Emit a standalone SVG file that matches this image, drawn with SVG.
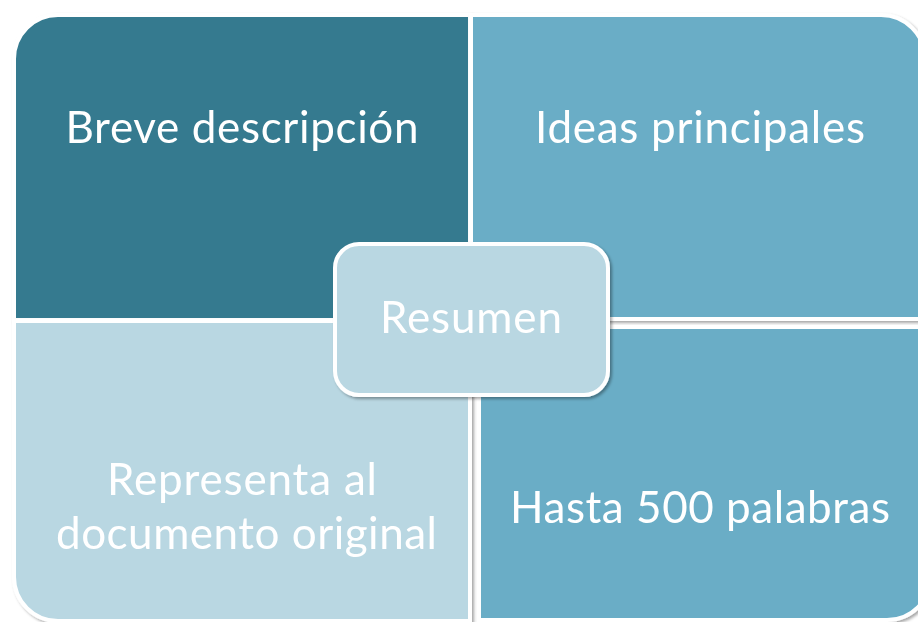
<svg xmlns="http://www.w3.org/2000/svg" width="918" height="622" viewBox="0 0 918 622">
  <style>
    .q { stroke: #ffffff; stroke-width: 4; }
    .dark { fill: #347A8F; }
    .mid { fill: #6AADC6; }
    .light { fill: #B9D7E2; }
    .lbl { font-family: Lato, "Open Sans", "Liberation Sans", sans-serif; font-size: 44px; fill: #ffffff; text-anchor: middle; }
  </style>
  <defs>
    <filter id="sh" x="-10%" y="-10%" width="120%" height="120%">
      <feDropShadow dx="2" dy="2" stdDeviation="1.5" flood-color="#000000" flood-opacity="0.35"/>
    </filter>
  </defs>
  <rect x="0" y="0" width="918" height="622" fill="#ffffff"/>

  <g id="node-tl" filter="url(#sh)">
    <path class="q dark" d="M14 59 A44 44 0 0 1 58 15 L470 15 L470 320 L14 320 Z"/>
    <text class="lbl" x="242" y="143" textLength="353">Breve descripción</text>
  </g>
  <g id="node-tr" filter="url(#sh)">
    <path class="q mid" d="M471 15 L881 15 A44 44 0 0 1 925 59 L925 319 L471 319 Z"/>
    <text class="lbl" x="700" y="143" textLength="330">Ideas principales</text>
  </g>
  <g id="node-bl" filter="url(#sh)">
    <path class="q light" d="M14 321 L470 321 L470 621 L58 621 A44 44 0 0 1 14 577 Z"/>
    <text class="lbl" x="242" y="495" textLength="270">Representa al</text>
    <text class="lbl" x="246.5" y="549" textLength="381">documento original</text>
  </g>
  <g id="node-br" filter="url(#sh)">
    <path class="q mid" d="M479 327 L931 327 L931 576 A44 44 0 0 1 887 620 L479 620 Z"/>
    <text class="lbl" x="700" y="523" textLength="380">Hasta 500 palabras</text>
  </g>
  <g id="node-center" filter="url(#sh)">
    <rect class="q light" x="335" y="244" width="273" height="151" rx="24" ry="24"/>
    <text class="lbl" x="471" y="333" textLength="182">Resumen</text>
  </g>
  <g id="connectors"></g>
</svg>
